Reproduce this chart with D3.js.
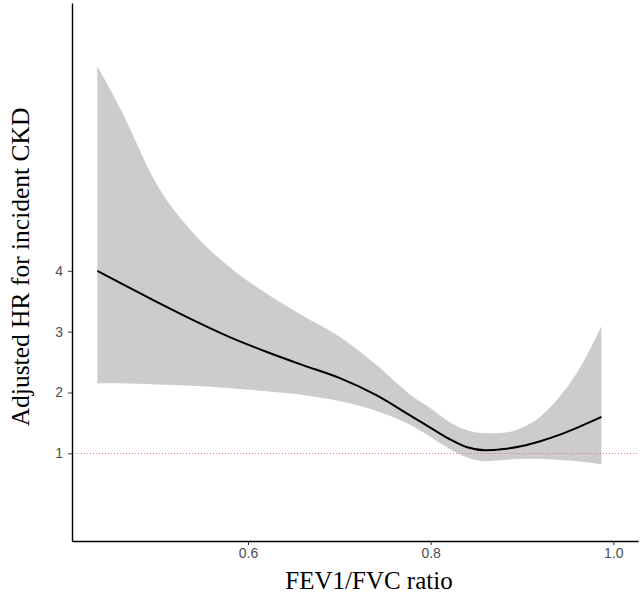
<!DOCTYPE html>
<html>
<head>
<meta charset="utf-8">
<script src="https://cdn.jsdelivr.net/npm/d3@7"></script>
<style>
  body { margin: 0; background: #fff; }
  svg { display: block; }
</style>
</head>
<body>
<div id="chart"></div>
<script>
const fevRatio = [0.435, 0.46, 0.50, 0.54, 0.58, 0.62, 0.66, 0.70, 0.74, 0.78, 0.80, 0.82, 0.84, 0.86, 0.88, 0.90, 0.92, 0.94, 0.96, 0.987];
const hrFit   = [4.00, 3.80, 3.49, 3.19, 2.91, 2.67, 2.45, 2.24, 1.96, 1.60, 1.42, 1.24, 1.10, 1.05, 1.07, 1.12, 1.20, 1.30, 1.42, 1.60];
const hrUpper = [7.36, 6.67, 5.42, 4.62, 4.06, 3.63, 3.26, 2.92, 2.46, 1.94, 1.74, 1.52, 1.38, 1.33, 1.34, 1.42, 1.60, 1.91, 2.32, 3.09];
const hrLower = [2.15, 2.15, 2.13, 2.11, 2.07, 2.02, 1.96, 1.86, 1.70, 1.45, 1.27, 1.08, 0.93, 0.87, 0.89, 0.91, 0.91, 0.89, 0.87, 0.82];
const xTicks = [0.6, 0.8, 1.0];
const yTicks = [1, 2, 3, 4];
const refHR = 1;

const width = 640;
const height = 600;
const margin = { top: 3, right: 2, bottom: 59, left: 72 };

const svg = d3.select('#chart').append('svg').attr('width', width).attr('height', height);

const x = d3.scaleLinear()
  .domain([0.4073, 1.027])
  .range([margin.left, width - margin.right]);

const y = d3.scaleLinear()
  .domain([-0.44, 8.40])
  .range([height - margin.bottom, margin.top]);

const rows = fevRatio.map((d, i) => ({ x: d, fit: hrFit[i], lo: hrLower[i], hi: hrUpper[i] }));

// confidence band
svg.append('path')
  .datum(rows)
  .attr('fill', '#cccccc')
  .attr('d', d3.area()
    .x((d) => x(d.x))
    .y0((d) => y(d.lo))
    .y1((d) => y(d.hi))
    .curve(d3.curveMonotoneX));

// reference line at HR = 1
svg.append('line')
  .attr('x1', margin.left)
  .attr('x2', width - margin.right)
  .attr('y1', Math.round(y(refHR)) + 0.5)
  .attr('y2', Math.round(y(refHR)) + 0.5)
  .attr('stroke', '#e07a7a')
  .attr('stroke-width', 1)
  .attr('stroke-dasharray', '1,2');

// fitted curve
svg.append('path')
  .datum(rows)
  .attr('fill', 'none')
  .attr('stroke', '#000')
  .attr('stroke-width', 2)
  .attr('d', d3.line()
    .x((d) => x(d.x))
    .y((d) => y(d.fit))
    .curve(d3.curveMonotoneX));

// axes
const xAxis = svg.append('g')
  .attr('transform', `translate(0, ${height - margin.bottom})`)
  .call(d3.axisBottom(x).tickValues(xTicks).tickFormat(d3.format('.1f')).tickSizeInner(4).tickSizeOuter(0).tickPadding(3));

const yAxis = svg.append('g')
  .attr('transform', `translate(${margin.left}, 0)`)
  .call(d3.axisLeft(y).tickValues(yTicks).tickFormat(d3.format('d')).tickSizeInner(4).tickSizeOuter(0).tickPadding(5));

[xAxis, yAxis].forEach((g) => {
  g.select('.domain').attr('stroke', '#000').attr('stroke-width', 1.4);
  g.selectAll('.tick line').attr('stroke', '#333');
  g.selectAll('.tick text')
    .attr('fill', '#4d4d4d')
    .style('font-family', 'Liberation Sans, Arial, sans-serif')
    .style('font-size', '14px');
});

// axis titles
svg.append('text')
  .attr('x', 369)
  .attr('y', 589)
  .attr('text-anchor', 'middle')
  .style('font-family', 'Liberation Serif, Times New Roman, serif')
  .style('font-size', '25px')
  .attr('fill', '#000')
  .text('FEV1/FVC ratio');

svg.append('text')
  .attr('transform', 'translate(29, 267) rotate(-90)')
  .attr('text-anchor', 'middle')
  .style('font-family', 'Liberation Serif, Times New Roman, serif')
  .style('font-size', '25.5px')
  .attr('fill', '#000')
  .text('Adjusted HR for incident CKD');
</script>
</body>
</html>
